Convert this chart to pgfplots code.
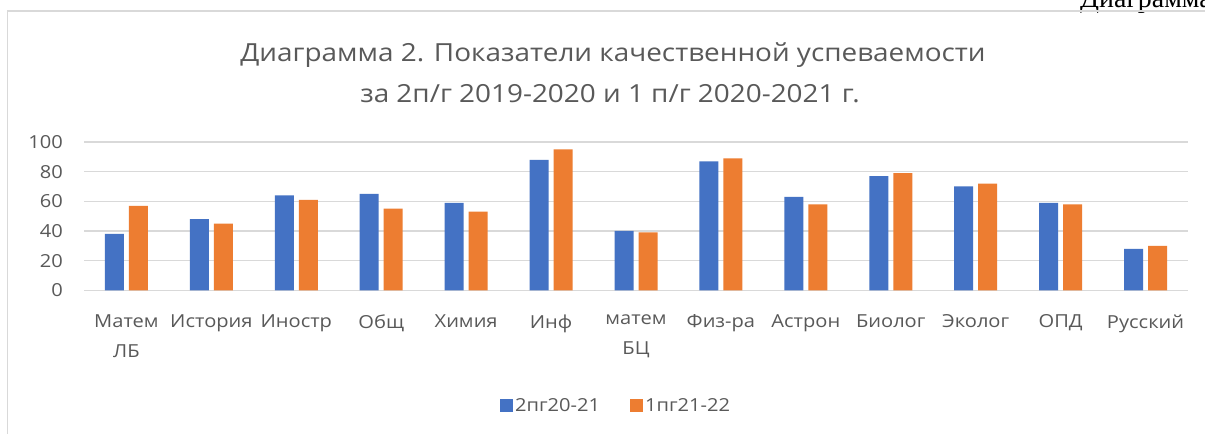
\documentclass[border=0pt]{standalone}
\usepackage{pgfplots}
\pgfplotsset{compat=1.18}
\usepackage{fontspec}
\setmainfont{Open Sans}[FakeStretch=1.12]
\newfontfamily\seriffont{Liberation Serif}
\definecolor{cblue}{HTML}{4472C4}
\definecolor{corange}{HTML}{ED7D31}
\definecolor{cgrid}{HTML}{D9D9D9}
\definecolor{ctext}{HTML}{595959}
\begin{document}
\begin{tikzpicture}[x=1bp,y=1bp]
\useasboundingbox (0,0) rectangle (1205,434);
\fill[white] (0,0) rectangle (1205,434);
\node[anchor=base west, inner sep=0pt, font=\seriffont\fontsize{28}{32}\selectfont] at (1080,426) {Диаграмма};
\fill[white] (0,0) rectangle (1205,421);
\draw[cgrid, line width=1.3bp] (7.5,0) -- (7.5,423) -- (1205,423);
\node[anchor=base, inner sep=0pt, text=ctext, font=\fontsize{25}{30}\selectfont] at (613,372) {Диаграмма 2. Показатели качественной успеваемости};
\node[anchor=base, inner sep=0pt, text=ctext, font=\fontsize{25}{30}\selectfont] at (610,331) {за 2п/г 2019-2020 и 1 п/г 2020-2021 г.};
\begin{axis}[
  at={(84bp,143.7bp)}, anchor=south west,
  scale only axis, width=1104bp, height=148.3bp,
  xmin=-0.5, xmax=12.5, ymin=0, ymax=100,
  ytick={0,20,40,60,80,100},
  xtick={0,...,12},
  xticklabels={{Матем\\[8bp]ЛБ},История,Иностр,Общ,Химия,Инф,{матем\\[8bp]БЦ},Физ-ра,Астрон,Биолог,Эколог,ОПД,Русский},
  /pgf/number format/assume math mode=true,
  axis line style={draw=none},
  tick style={draw=none},
  ymajorgrids,
  grid style={cgrid, line width=1.3bp},
  yticklabel style={font=\fontsize{18}{22}\selectfont, text=ctext, inner sep=0pt, anchor=east, xshift=-21bp},
  xticklabel style={font=\fontsize{18}{22}\selectfont, text=ctext, inner sep=0pt, align=center, anchor=north, yshift=-24bp},
  legend columns=2,
  legend style={at={(0.482,-0.78)}, anchor=center, draw=none, fill=none, font=\fontsize{18}{22}\selectfont, text=ctext,
    /tikz/every even column/.append style={column sep=28bp}},
  legend cell align=left,
]
\addplot[ybar, bar width=19bp, bar shift=-12bp, fill=cblue, draw=none,
  legend image code/.code={\fill[cblue] (-5bp,-6.5bp) rectangle (8bp,6.5bp);}]
  coordinates {(0,38) (1,48) (2,64) (3,65) (4,59) (5,88) (6,40) (7,87) (8,63) (9,77) (10,70) (11,59) (12,28)};
\addlegendentry{2пг20-21}
\addplot[ybar, bar width=19bp, bar shift=12bp, fill=corange, draw=none,
  legend image code/.code={\fill[corange] (-5bp,-6.5bp) rectangle (8bp,6.5bp);}]
  coordinates {(0,57) (1,45) (2,61) (3,55) (4,53) (5,95) (6,39) (7,89) (8,58) (9,79) (10,72) (11,58) (12,30)};
\addlegendentry{1пг21-22}
\end{axis}
\end{tikzpicture}
\end{document}
